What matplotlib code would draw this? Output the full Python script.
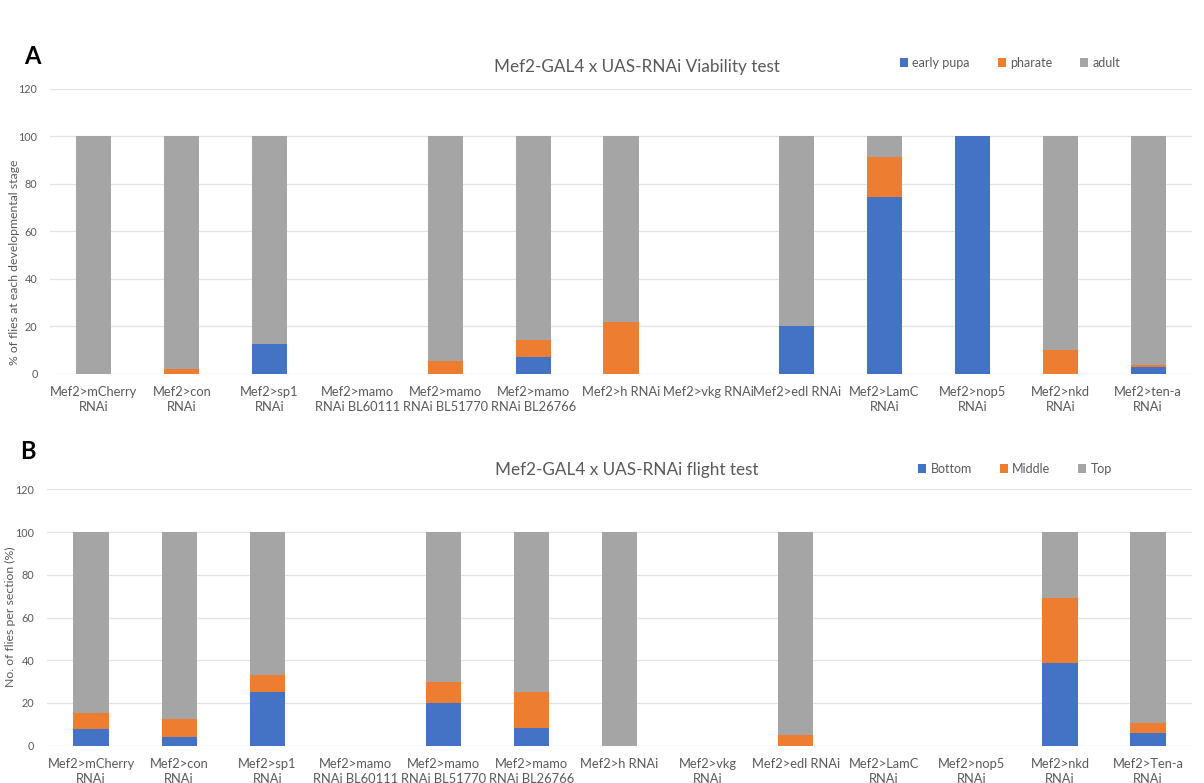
import matplotlib
matplotlib.use("Agg")
import matplotlib.pyplot as plt
import numpy as np

plt.rcParams['font.family'] = ['Lato', 'DejaVu Sans']

# Panel A: viability (% of flies at each developmental stage)
labels_a = ["Mef2>mCherry\nRNAi", "Mef2>con\nRNAi", "Mef2>sp1\nRNAi",
            "Mef2>mamo\nRNAi BL60111", "Mef2>mamo\nRNAi BL51770", "Mef2>mamo\nRNAi BL26766",
            "Mef2>h RNAi", "Mef2>vkg RNAi", "Mef2>edl RNAi", "Mef2>LamC\nRNAi",
            "Mef2>nop5\nRNAi", "Mef2>nkd\nRNAi", "Mef2>ten-a\nRNAi"]
early_pupa = [0, 0, 12.5, 0, 0, 7.0, 0, 0, 20.0, 74.2, 100, 0, 3.1]
pharate =    [0, 2.3, 0, 0, 5.6, 7.3, 21.8, 0, 0, 16.8, 0, 10.0, 0.6]
adult =      [100, 97.7, 87.5, 0, 94.4, 85.7, 78.2, 0, 80.0, 9.0, 0, 90.0, 96.3]

# Panel B: flight test (No. of flies per section, %)
labels_b = ["Mef2>mCherry\nRNAi", "Mef2>con\nRNAi", "Mef2>sp1\nRNAi",
            "Mef2>mamo\nRNAi BL60111", "Mef2>mamo\nRNAi BL51770", "Mef2>mamo\nRNAi BL26766",
            "Mef2>h RNAi", "Mef2>vkg\nRNAi", "Mef2>edl RNAi", "Mef2>LamC\nRNAi",
            "Mef2>nop5\nRNAi", "Mef2>nkd\nRNAi", "Mef2>Ten-a\nRNAi"]
bottom = [7.7, 4.2, 25.0, 0, 20.0, 8.3, 0, 0, 0, 0, 0, 38.5, 5.8]
middle = [7.5, 8.4, 8.3, 0, 9.8, 16.7, 0, 0, 5.2, 0, 0, 30.8, 4.7]
top =    [84.8, 87.4, 66.7, 0, 70.2, 75.0, 100, 0, 94.8, 0, 0, 30.7, 89.5]

BLUE, ORANGE, GREY = "#4472C4", "#ED7D31", "#A5A5A5"
TXT = "#595959"
W, H = 1204, 783

fig = plt.figure(figsize=(W / 100, H / 100), dpi=100)


def frame(ax_px):
    l, r, b, t = ax_px
    return [l / W, 1 - b / H, (r - l) / W, (b - t) / H]


def stacked(ax, labels, series, colors, names):
    x = np.arange(len(labels))
    base = np.zeros(len(labels))
    handles = []
    for vals, c, n in zip(series, colors, names):
        vals = np.asarray(vals, dtype=float)
        h = ax.bar(x, vals, width=0.4, bottom=base, color=c, label=n, zorder=3)
        handles.append(h)
        base = base + vals
    ax.set_xlim(-0.5, len(labels) - 0.5)
    ax.set_ylim(0, 120)
    ax.set_yticks(np.arange(0, 121, 20))
    ax.set_xticks(x)
    ax.set_xticklabels(labels, fontsize=9.3, color=TXT, linespacing=1.25)
    ax.tick_params(axis='both', length=0, colors=TXT)
    ax.tick_params(axis='y', labelsize=7.8, pad=9)
    ax.tick_params(axis='x', pad=9)
    ax.grid(axis='y', color="#E3E3E3", lw=0.9, zorder=0)
    for s in ax.spines.values():
        s.set_visible(False)
    return handles


# Panel A
axA = fig.add_axes(frame((50, 1192, 374, 88.5)))
hA = stacked(axA, labels_a, [early_pupa, pharate, adult], [BLUE, ORANGE, GREY],
             ["early pupa", "pharate", "adult"])
fig.text(637 / W, 1 - 67 / H, "Mef2-GAL4 x UAS-RNAi Viability test",
         ha='center', va='center', fontsize=12.3, color=TXT)
fig.text(15 / W, 1 - 262 / H, "% of flies at each developmental stage",
         rotation=90, ha='center', va='center', fontsize=8.8, color=TXT)
fig.text(32 / W, 1 - 57 / H, "A", ha='center', va='center', fontsize=17,
         fontweight='bold', color='black')
fig.legend(handles=hA, loc='center', bbox_to_anchor=(1010 / W, 1 - 63 / H),
           ncol=3, frameon=False, fontsize=9, handlelength=0.65, handleheight=0.65,
           handletextpad=0.35, columnspacing=2.2, labelcolor=TXT)

# Panel B
axB = fig.add_axes(frame((47, 1192, 745.7, 489.3)))
hB = stacked(axB, labels_b, [bottom, middle, top], [BLUE, ORANGE, GREY],
             ["Bottom", "Middle", "Top"])
fig.text(627 / W, 1 - 470 / H, "Mef2-GAL4 x UAS-RNAi flight test",
         ha='center', va='center', fontsize=12.3, color=TXT)
fig.text(10 / W, 1 - 617 / H, "No. of flies per section (%)",
         rotation=90, ha='center', va='center', fontsize=8.8, color=TXT)
fig.text(28 / W, 1 - 452 / H, "B", ha='center', va='center', fontsize=17,
         fontweight='bold', color='black')
fig.legend(handles=hB, loc='center', bbox_to_anchor=(1015 / W, 1 - 469 / H),
           ncol=3, frameon=False, fontsize=9, handlelength=0.65, handleheight=0.65,
           handletextpad=0.35, columnspacing=2.2, labelcolor=TXT)

fig.savefig("out.png", dpi=100, facecolor='white')
